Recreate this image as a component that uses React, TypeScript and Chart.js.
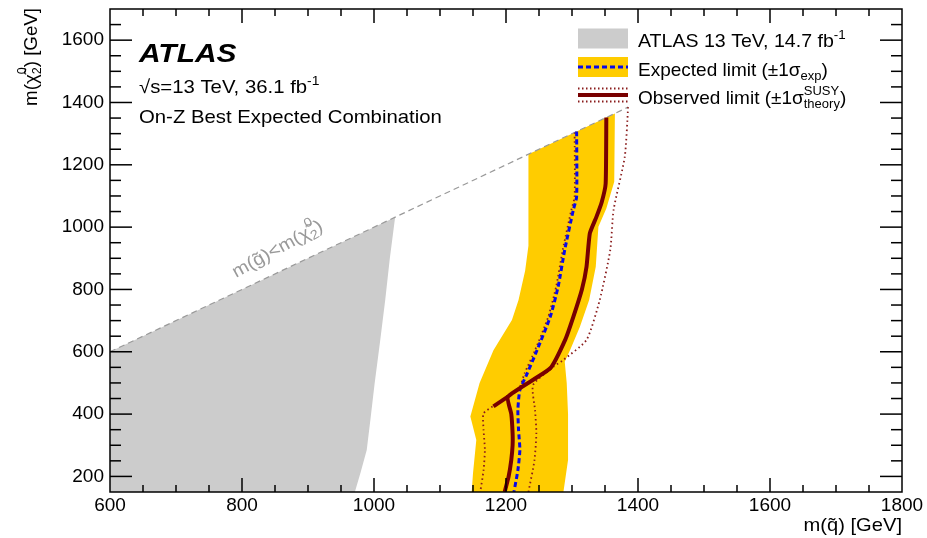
import React, { useEffect, useRef } from 'react';
import { Chart, registerables } from 'chart.js';
Chart.register(...registerables);

const FAM = '"Liberation Sans", Arial, Helvetica, sans-serif';

// ---- axes ----
const X_MIN = 600;
const X_MAX = 1800;
const Y_MIN = 150;
const Y_MAX = 1700;
const xTickLabels = [600, 800, 1000, 1200, 1400, 1600, 1800];
const yTickLabels = [200, 400, 600, 800, 1000, 1200, 1400, 1600];
const MINOR_STEP = 50;

// ---- ATLAS 13 TeV, 14.7 fb-1 excluded region (grey) ----
const prevX = [600, 600, 1032, 1024, 1017, 1009, 1001, 995, 989, 980, 971, 600];
const prevY = [150, 600, 1032, 900, 766, 630, 499, 390, 285, 215, 150, 150];

// ---- kinematic boundary m(g~) = m(chi2) ----
const diagX = [600, 1385];
const diagY = [600, 1385];

// ---- expected +-1 sigma band (yellow) ----
const bandX = [1234, 1365, 1364, 1352, 1340, 1336, 1326, 1312, 1298, 1289, 1292, 1294, 1294, 1287, 1148, 1150, 1155, 1146, 1160, 1181, 1209, 1219, 1229, 1234, 1234];
const bandY = [1234, 1365, 1146, 1060, 1001, 873, 766, 680, 610, 568, 500, 400, 253, 150, 150, 210, 317, 392, 500, 605, 702, 766, 860, 940, 1234];

// ---- expected limit (blue dashed) ----
const expX = [1307, 1307, 1302, 1289, 1279, 1267, 1247, 1232, 1221, 1218, 1219, 1221, 1218, 1212];
const expY = [1307, 1098, 1055, 927, 809, 712, 605, 530, 477, 413, 350, 285, 220, 150];

// ---- observed limit (dark red) ----
const obsX = [1352, 1351, 1345, 1337, 1327, 1322, 1315, 1302, 1290, 1267, 1203, 1208, 1210, 1210, 1208, 1204, 1198];
const obsY = [1352, 1140, 1080, 1033, 980, 873, 800, 712, 640, 547, 456, 400, 338, 300, 253, 200, 150];
const obsSpurX = [1203, 1181];
const obsSpurY = [456, 425];

// ---- observed +-1 sigma theory (dotted) ----
const obsUpX = [1385, 1380, 1363, 1358, 1342, 1322, 1287, 1272, 1241, 1244, 1246, 1243, 1234];
const obsUpY = [1385, 1226, 1055, 927, 766, 638, 574, 552, 493, 413, 338, 250, 150];
const obsDnX = [1304, 1304, 1299, 1286, 1276, 1264, 1244, 1228, 1219, 1183, 1166, 1166, 1168, 1166, 1161];
const obsDnY = [1304, 1098, 1055, 927, 809, 712, 605, 530, 480, 429, 402, 350, 285, 220, 150];

const GREY = '#cccccc';
const YELLOW = '#ffcc00';
const BLUE = '#0a0ae6';
const DARKRED = '#780000';
const DOTRED = '#8a1c1c';

const pts = (xs: number[], ys: number[]) => xs.map((x, i) => ({ x, y: ys[i] }));

type Part = { t?: string; size: number; style?: string; dy?: number; sup?: string; sub?: string; supDy?: number; subDy?: number };

const fnt = (size: number, style = '') => `${style} ${size}px ${FAM}`.trim();

function partWidth(ctx: CanvasRenderingContext2D, p: Part) {
  if (p.sup !== undefined || p.sub !== undefined) {
    ctx.font = fnt(p.size);
    return Math.max(ctx.measureText(p.sup || '').width, ctx.measureText(p.sub || '').width);
  }
  ctx.font = fnt(p.size, p.style);
  return ctx.measureText(p.t || '').width;
}

function drawRich(
  ctx: CanvasRenderingContext2D,
  parts: Part[],
  x: number,
  y: number,
  o: { align?: string; angle?: number; color?: string; sx?: number } = {}
) {
  ctx.save();
  ctx.translate(x, y);
  if (o.angle) ctx.rotate(o.angle);
  if (o.sx) ctx.scale(o.sx, 1);
  const total = parts.reduce((s, p) => s + partWidth(ctx, p), 0);
  let cx = o.align === 'right' ? -total : o.align === 'center' ? -total / 2 : 0;
  ctx.fillStyle = o.color || '#000';
  ctx.textAlign = 'left';
  ctx.textBaseline = 'alphabetic';
  for (const p of parts) {
    const w = partWidth(ctx, p);
    if (p.sup !== undefined || p.sub !== undefined) {
      ctx.font = fnt(p.size);
      if (p.sup) ctx.fillText(p.sup, cx, p.supDy || 0);
      if (p.sub) ctx.fillText(p.sub, cx, p.subDy || 0);
    } else {
      ctx.font = fnt(p.size, p.style);
      ctx.fillText(p.t || '', cx, p.dy || 0);
    }
    cx += w;
  }
  ctx.restore();
}

const decor = {
  id: 'decor',
  beforeDraw(chart: any) {
    const { ctx, width, height } = chart;
    ctx.save();
    ctx.fillStyle = '#fff';
    ctx.fillRect(0, 0, width, height);
    ctx.restore();
  },
  afterDraw(chart: any) {
    const ctx: CanvasRenderingContext2D = chart.ctx;
    const a = chart.chartArea;
    const xs = chart.scales.x;
    const ys = chart.scales.y;
    ctx.save();
    // frame
    ctx.strokeStyle = '#000';
    ctx.lineWidth = 1.5;
    ctx.strokeRect(a.left, a.top, a.right - a.left, a.bottom - a.top);
    const seg = (x1: number, y1: number, x2: number, y2: number) => {
      ctx.beginPath();
      ctx.moveTo(x1, y1);
      ctx.lineTo(x2, y2);
      ctx.stroke();
    };
    for (let v = X_MIN + MINOR_STEP; v < X_MAX; v += MINOR_STEP) {
      const px = xs.getPixelForValue(v);
      const L = xTickLabels.includes(v) ? 14 : 7;
      seg(px, a.bottom, px, a.bottom - L);
      seg(px, a.top, px, a.top + L);
    }
    for (let v = Math.ceil(Y_MIN / MINOR_STEP) * MINOR_STEP; v < Y_MAX; v += MINOR_STEP) {
      if (v <= Y_MIN) continue;
      const py = ys.getPixelForValue(v);
      const L = yTickLabels.includes(v) ? 22 : 11;
      seg(a.left, py, a.left + L, py);
      seg(a.right, py, a.right - L, py);
    }

    // boundary label
    const p1x = xs.getPixelForValue(diagX[0]);
    const p1y = ys.getPixelForValue(diagY[0]);
    const p2x = xs.getPixelForValue(diagX[1]);
    const p2y = ys.getPixelForValue(diagY[1]);
    const th = Math.atan2(p2y - p1y, p2x - p1x);
    const cxl = xs.getPixelForValue(868);
    const cyl = ys.getPixelForValue(868);
    const off = 16;
    drawRich(
      ctx,
      [
        { t: 'm(g\u0303)<m(\u03c7\u0303', size: 18 },
        { sup: '0', sub: '2', size: 13, supDy: -10, subDy: 4 },
        { t: ')', size: 18 },
      ],
      cxl + Math.sin(th) * off,
      cyl - Math.cos(th) * off,
      { align: 'center', angle: th - 0.06, color: '#999999', sx: 1.1 }
    );

    // ATLAS labels
    drawRich(ctx, [{ t: 'ATLAS', size: 26, style: 'italic bold' }], 139, 61.5, { sx: 1.15 });
    drawRich(
      ctx,
      [
        { t: '\u221as=13 TeV, 36.1 fb', size: 19 },
        { sup: '-1', size: 13, supDy: -8 },
      ],
      139,
      93,
      { sx: 1.07 }
    );
    drawRich(ctx, [{ t: 'On-Z Best Expected Combination', size: 19 }], 139, 123, { sx: 1.07 });

    // legend
    const lx = 578;
    const lw = 50;
    ctx.fillStyle = GREY;
    ctx.fillRect(lx, 28.5, lw, 20);
    ctx.fillStyle = YELLOW;
    ctx.fillRect(lx, 57, lw, 20);
    ctx.strokeStyle = BLUE;
    ctx.lineWidth = 3;
    ctx.setLineDash([5, 3]);
    seg(lx, 67, lx + lw, 67);
    ctx.strokeStyle = DOTRED;
    ctx.lineWidth = 2;
    ctx.setLineDash([1.5, 2.5]);
    seg(lx, 88.5, lx + lw, 88.5);
    seg(lx, 101.5, lx + lw, 101.5);
    ctx.setLineDash([]);
    ctx.strokeStyle = DARKRED;
    ctx.lineWidth = 4;
    seg(lx, 95, lx + lw, 95);

    const tx = 638;
    drawRich(ctx, [{ t: 'ATLAS 13 TeV, 14.7 fb', size: 19 }, { sup: '-1', size: 13, supDy: -8 }], tx, 47, { sx: 1.03 });
    drawRich(
      ctx,
      [
        { t: 'Expected limit (\u00b11\u03c3', size: 19 },
        { sub: 'exp', size: 13, subDy: 4 },
        { t: ')', size: 19 },
      ],
      tx,
      76,
      { sx: 1.0 }
    );
    drawRich(
      ctx,
      [
        { t: 'Observed limit (\u00b11\u03c3', size: 19 },
        { sup: 'SUSY', sub: 'theory', size: 13, supDy: -9, subDy: 4 },
        { t: ')', size: 19 },
      ],
      tx,
      104,
      { sx: 1.0 }
    );

    // axis titles
    drawRich(ctx, [{ t: 'm(q\u0303) [GeV]', size: 19 }], a.right, 531, { align: 'right', sx: 1.06 });
    drawRich(
      ctx,
      [
        { t: 'm(\u03c7\u0303', size: 18 },
        { sup: '0', sub: '2', size: 12, supDy: -11, subDy: 4 },
        { t: ') [GeV]', size: 18 },
      ],
      37,
      8,
      { align: 'right', angle: -Math.PI / 2, sx: 1.04 }
    );
    ctx.restore();
  },
};

export default function App() {
  const ref = useRef<HTMLCanvasElement>(null);
  useEffect(() => {
    const fillDs = (data: any, color: string, order: number) => ({
      data,
      backgroundColor: color,
      borderColor: 'rgba(0,0,0,0)',
      borderWidth: 1,
      fill: 'shape',
      pointRadius: 0,
      tension: 0,
      order,
    });
    const lineDs = (data: any, color: string, width: number, dash: number[], order: number, tension = 0.2) => ({
      data,
      borderColor: color,
      borderWidth: width,
      borderDash: dash,
      fill: false,
      pointRadius: 0,
      tension,
      order,
    });
    const chart = new Chart(ref.current as HTMLCanvasElement, {
      type: 'line',
      data: {
        datasets: [
          fillDs(pts(prevX, prevY), GREY, 10),
          fillDs(pts(bandX, bandY), YELLOW, 9),
          lineDs(pts(diagX, diagY), '#999999', 1.2, [6, 4], 8, 0),
          lineDs(pts(obsUpX, obsUpY), DOTRED, 1.8, [1.5, 3], 6),
          lineDs(pts(obsDnX, obsDnY), DOTRED, 1.8, [1.5, 3], 6),
          lineDs(pts(expX, expY), BLUE, 3, [5, 3], 5),
          lineDs(pts(obsX, obsY), DARKRED, 4, [], 4, 0.15),
          lineDs(pts(obsSpurX, obsSpurY), DARKRED, 4, [], 4, 0),
        ] as any,
      },
      options: {
        responsive: false,
        maintainAspectRatio: false,
        devicePixelRatio: 1,
        animation: false,
        events: [],
        layout: { padding: { left: 0, right: 25, top: 9, bottom: 0 } },
        plugins: { legend: { display: false }, tooltip: { enabled: false } },
        scales: {
          x: {
            type: 'linear',
            min: X_MIN,
            max: X_MAX,
            grid: { display: false, drawTicks: false },
            border: { display: false },
            ticks: {
              font: { family: FAM, size: 19 },
              color: '#000',
              padding: 2,
              maxRotation: 0,
              autoSkip: false,
              callback: (v: any) => String(v),
            },
            afterBuildTicks: (s: any) => {
              s.ticks = xTickLabels.map((v) => ({ value: v }));
            },
            afterFit: (s: any) => {
              s.height = 46;
              s.paddingLeft = 0;
              s.paddingRight = 0;
            },
          },
          y: {
            type: 'linear',
            min: Y_MIN,
            max: Y_MAX,
            grid: { display: false, drawTicks: false },
            border: { display: false },
            ticks: {
              font: { family: FAM, size: 19 },
              color: '#000',
              padding: 6,
              autoSkip: false,
              callback: (v: any) => String(v),
            },
            afterBuildTicks: (s: any) => {
              s.ticks = yTickLabels.map((v) => ({ value: v }));
            },
            afterFit: (s: any) => {
              s.width = 110;
              s.paddingTop = 0;
              s.paddingBottom = 0;
            },
          },
        },
      } as any,
      plugins: [decor],
    });
    return () => chart.destroy();
  }, []);
  return (
    <div style={{ position: 'absolute', left: 0, top: 0, width: 927, height: 538, background: '#fff' }}>
      <canvas ref={ref} width={927} height={538} style={{ display: 'block', width: 927, height: 538 }} />
    </div>
  );
}
